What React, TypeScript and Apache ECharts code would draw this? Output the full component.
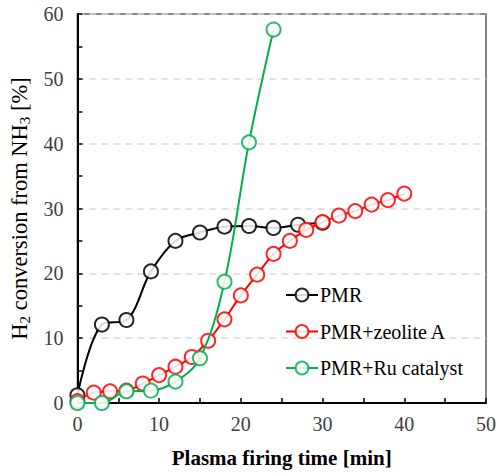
import React, { useEffect, useRef } from "react";
import * as echarts from "echarts";

const pmrTime = [0, 3, 6, 9, 12, 15, 18, 21, 24, 27, 30];
const pmrValues = [1.2, 12.1, 12.8, 20.3, 25.0, 26.3, 27.2, 27.3, 27.0, 27.5, 27.8];

const zeoliteTime = [0, 2, 4, 6, 8, 10, 12, 14, 16, 18, 20, 22, 24, 26, 28, 30, 32, 34, 36, 38, 40];
const zeoliteValues = [0.3, 1.6, 1.8, 1.9, 3.0, 4.3, 5.6, 7.1, 9.6, 12.9, 16.6, 19.8, 23.0, 25.0, 26.7, 27.9, 28.9, 29.6, 30.6, 31.3, 32.3];

const ruTime = [0, 3, 6, 9, 12, 15, 18, 21, 24];
const ruValues = [0, 0, 1.8, 1.9, 3.3, 6.9, 18.7, 40.2, 57.6];

const seriesNames = ["PMR", "PMR+zeolite A", "PMR+Ru catalyst"];
const seriesColors = ["#000000", "#ff0000", "#00b050"];

const xTitle = "Plasma firing time [min]";

const FONT = "Liberation Serif";

function pairs(xs: number[], ys: number[]) {
  return xs.map((x, i) => [x, ys[i]]);
}

export default function App() {
  const ref = useRef<HTMLDivElement>(null);
  useEffect(() => {
    if (!ref.current) return;
    const chart = echarts.init(ref.current, null, { renderer: "svg" });
    const datasets = [
      pairs(pmrTime, pmrValues),
      pairs(zeoliteTime, zeoliteValues),
      pairs(ruTime, ruValues),
    ];
    chart.setOption({
      animation: false,
      backgroundColor: "#ffffff",
      textStyle: { fontFamily: FONT },
      grid: {
        left: 77,
        top: 14,
        right: 12,
        bottom: 73,
        show: true,
        borderColor: "#595959",
        borderWidth: 1.5,
      },
      legend: {
        orient: "vertical",
        left: 280,
        top: 280,
        itemWidth: 32,
        itemHeight: 16,
        itemGap: 16.5,
        data: seriesNames,
        textStyle: { fontFamily: FONT, fontSize: 20, color: "#000", padding: [0, 0, 0, -3] },
      },
      xAxis: {
        type: "value",
        min: 0,
        max: 50,
        interval: 10,
        name: xTitle,
        nameLocation: "middle",
        nameGap: 44,
        nameTextStyle: { fontFamily: FONT, fontSize: 21, fontWeight: "bold", color: "#000" },
        axisLine: { show: true, lineStyle: { color: "#000", width: 2 } },
        axisTick: { show: true, inside: true, length: 5, lineStyle: { color: "#000", width: 1.5 } },
        minorTick: { show: true, splitNumber: 2, length: 5, lineStyle: { color: "#000", width: 1.5 } },
        axisLabel: { fontFamily: FONT, fontSize: 20, color: "#404040", margin: 11 },
        splitLine: { show: false },
      },
      yAxis: {
        type: "value",
        min: 0,
        max: 60,
        interval: 10,
        name: "{m|H}{s|2}{m| conversion from NH}{s|3}{m| [%]}",
        nameLocation: "middle",
        nameGap: 41,
        nameRotate: 90,
        nameTextStyle: {
          rich: {
            m: { fontFamily: FONT, fontSize: 22.5, color: "#000", lineHeight: 26 },
            s: { fontFamily: FONT, fontSize: 15, color: "#000", lineHeight: 15, verticalAlign: "bottom" },
          },
        },
        axisLine: { show: true, lineStyle: { color: "#000", width: 2 } },
        axisTick: { show: true, inside: true, length: 5, lineStyle: { color: "#000", width: 1.5 } },
        minorTick: { show: true, splitNumber: 2, length: 5, lineStyle: { color: "#000", width: 1.5 } },
        axisLabel: { fontFamily: FONT, fontSize: 20, color: "#404040", margin: 14 },
        splitLine: { show: true, lineStyle: { color: "#d9d9d9", width: 1.5, type: [7, 5] } },
      },
      series: datasets.map((d, i) => ({
        name: seriesNames[i],
        type: "line",
        data: d,
        smooth: 0.35,
        symbol: "emptyCircle",
        symbolSize: 14,
        showAllSymbol: true,
        lineStyle: { color: seriesColors[i], width: 2 },
        itemStyle: { color: seriesColors[i], borderColor: seriesColors[i], borderWidth: 1.5, opacity: 0.85 },
        z: 2 + i,
      })),
    });
    return () => chart.dispose();
  }, []);
  return (
    <div
      ref={ref}
      style={{ position: "fixed", left: 0, top: 0, width: 499, height: 476 }}
    />
  );
}
